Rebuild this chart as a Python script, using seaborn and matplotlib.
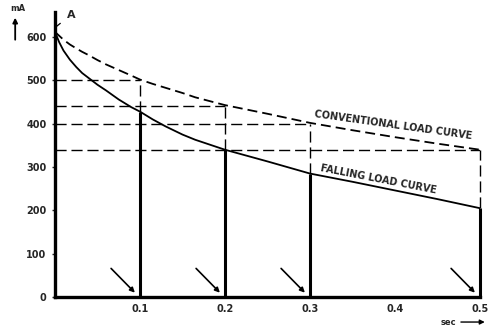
import pandas as pd
import matplotlib
matplotlib.use("Agg")
import matplotlib.pyplot as plt
import seaborn as sns

# Load current over time (mA vs seconds)
time_s = [0.0, 0.005, 0.01, 0.0175, 0.025, 0.032, 0.04, 0.05, 0.06, 0.075,
          0.09, 0.1, 0.115, 0.13, 0.15, 0.165, 0.2, 0.25, 0.3, 0.35, 0.4,
          0.45, 0.5]
conventional_mA = [612, 603, 594, 583, 574, 566, 558, 547, 537, 524,
                   511, 502, 492, 483, 471, 461, 443, 423, 402, 385, 369,
                   354, 340]
falling_mA = [612, 588, 569, 548, 531, 517, 505, 490, 477, 456,
              438, 428, 410, 394, 375, 363, 340, 313, 285, 266, 246,
              226, 205]

# Switching instants and the current levels read at each of them
marker_s = [0.1, 0.2, 0.3, 0.5]
marker_falling = [428, 340, 285, 205]
marker_conventional = [502, 442, 400, 340]

y_ticks = [0, 100, 200, 300, 400, 500, 600]
x_ticks = [0.1, 0.2, 0.3, 0.4, 0.5]
x_tick_labels = ["0.1", "0.2", "0.3", "0.4", "0.5"]

sns.set_style("white")
plt.rcParams["font.family"] = ["DejaVu Sans"]
plt.rcParams["font.weight"] = "bold"

df = pd.DataFrame({"t": time_s, "conv": conventional_mA, "fall": falling_mA})

fig = plt.figure(figsize=(4.9, 3.32), dpi=100)
ax = fig.add_axes([0.1122, 0.1054, 0.8674, 0.8585])

curve_dash = (0, (5.5, 2.8))
guide_dash = (0, (8, 3.5))
sns.lineplot(data=df, x="t", y="conv", ax=ax, color="black", lw=1.3,
             linestyle=curve_dash)
sns.lineplot(data=df, x="t", y="fall", ax=ax, color="black", lw=1.3)

# Horizontal guides from the axis to the conventional curve
ax.hlines(marker_conventional, 0, marker_s, colors="black", lw=1.0,
          linestyles=[guide_dash])
# Switching bars: solid up to the falling curve, dashed up to the conventional one
ax.vlines(marker_s, 0, marker_falling, colors="black", lw=2.2, clip_on=False)
ax.vlines(marker_s, marker_falling, marker_conventional, colors="black",
          lw=1.0, linestyles=[guide_dash], clip_on=False)

for t in marker_s:
    ax.annotate("", xy=(t - 0.006, 10), xytext=(t - 0.034, 66),
                arrowprops=dict(arrowstyle="-|>", color="black", lw=1.2,
                                mutation_scale=7, shrinkA=0, shrinkB=0))

# Starting point A
ax.annotate("A", xy=(0.002, 625), xytext=(0.019, 652), fontsize=8,
            fontweight="bold", ha="center", va="center",
            arrowprops=dict(arrowstyle="-", color="black", lw=0.9,
                            shrinkA=3, shrinkB=0))

ax.text(0.398, 398, "CONVENTIONAL LOAD CURVE", rotation=-8, fontsize=7,
        fontweight="bold", ha="center", va="center")
ax.text(0.380, 272, "FALLING LOAD CURVE", rotation=-11, fontsize=7,
        fontweight="bold", ha="center", va="center")

ax.set_xlim(0, 0.5)
ax.set_ylim(0, 658)
ax.set_yticks(y_ticks)
ax.set_yticklabels([str(v) for v in y_ticks], fontsize=7, fontweight="bold")
ax.set_xticks(x_ticks)
ax.set_xticklabels(x_tick_labels, fontsize=7, fontweight="bold")
ax.tick_params(axis="y", length=2, width=1, pad=4, left=True)
ax.tick_params(axis="x", length=0, pad=5)
ax.set_xlabel("")
ax.set_ylabel("")

for side in ("top", "right"):
    ax.spines[side].set_visible(False)
for side in ("left", "bottom"):
    ax.spines[side].set_linewidth(2.4)
    ax.spines[side].set_color("black")

# Axis unit labels with direction arrows
fig.text(0.037, 0.975, "mA", fontsize=6, fontweight="bold", ha="center",
         va="center")
fig.add_artist(matplotlib.patches.FancyArrowPatch(
    (0.031, 0.872), (0.031, 0.955), transform=fig.transFigure,
    arrowstyle="-|>", mutation_scale=7, lw=1.3, color="black"))
fig.text(0.915, 0.03, "sec", fontsize=6, fontweight="bold", ha="center",
         va="center")
fig.add_artist(matplotlib.patches.FancyArrowPatch(
    (0.935, 0.03), (0.995, 0.03), transform=fig.transFigure,
    arrowstyle="-|>", mutation_scale=7, lw=1.0, color="black"))

fig.savefig("out.png", dpi=100)
